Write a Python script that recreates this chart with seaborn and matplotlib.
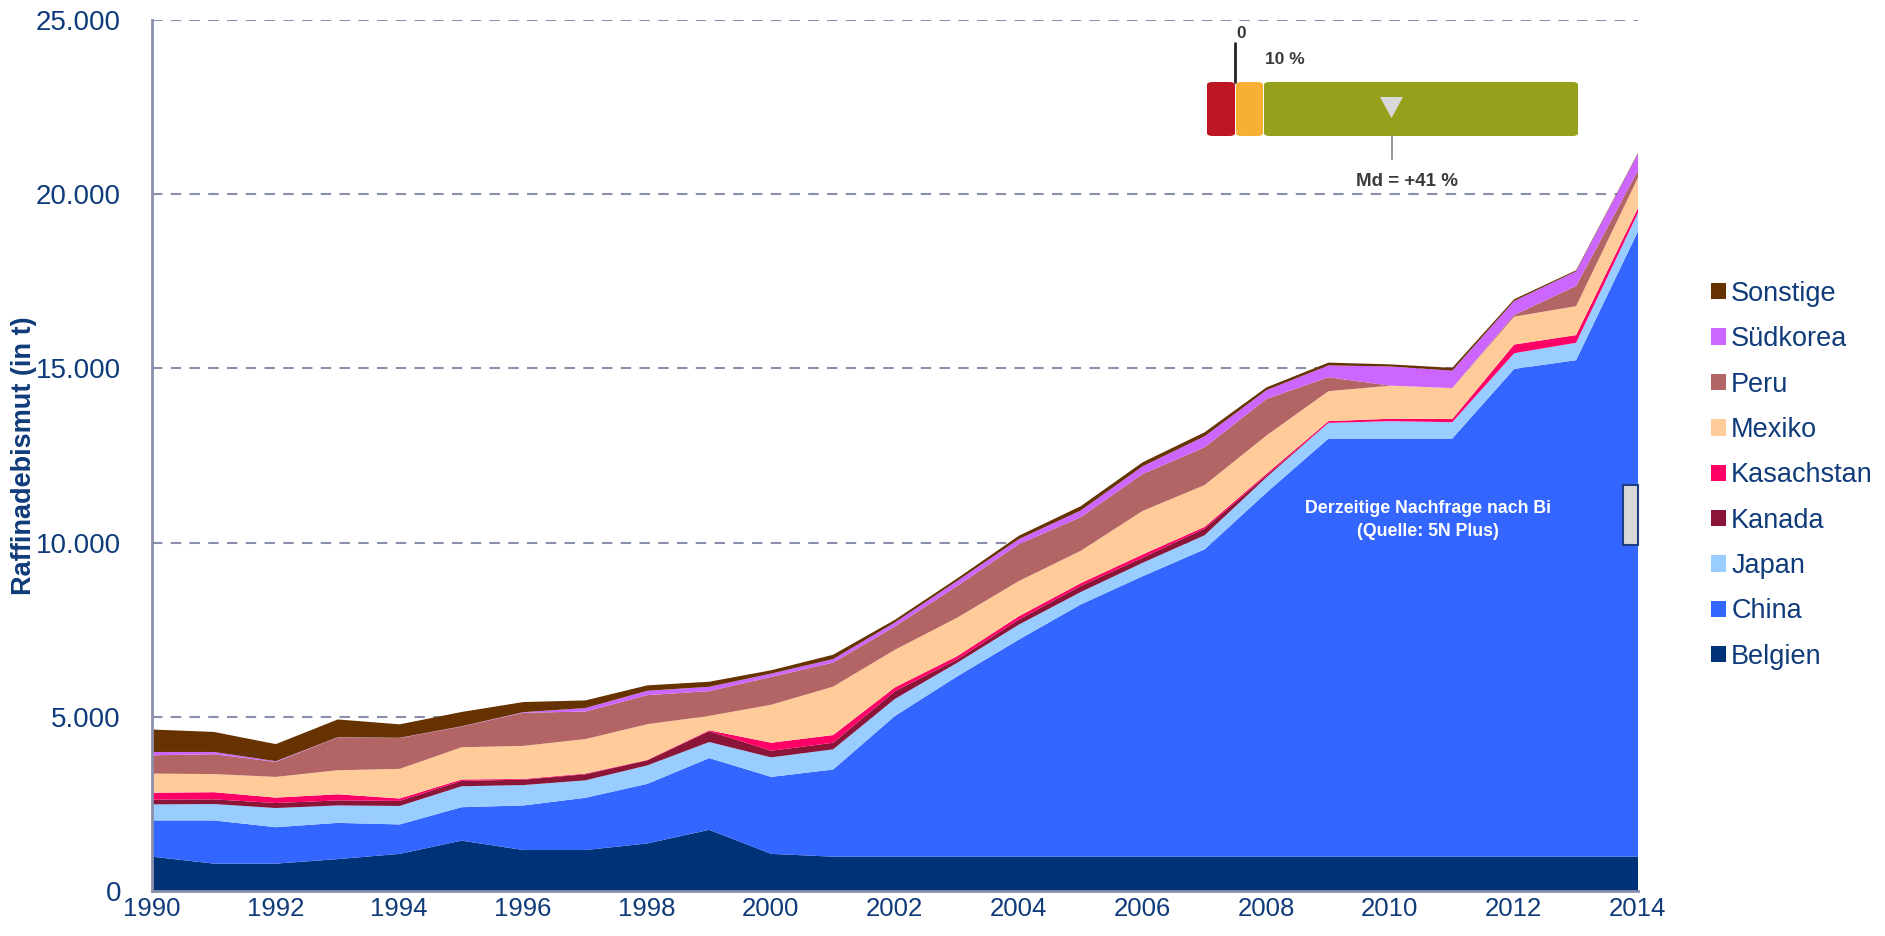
import numpy as np
import pandas as pd
import matplotlib
matplotlib.use("Agg")
import matplotlib.pyplot as plt
import seaborn as sns
from matplotlib.patches import FancyBboxPatch, Polygon, Rectangle
from matplotlib.lines import Line2D
from matplotlib.ticker import FuncFormatter

years = list(range(1990, 2015))
countries = ["Belgien", "China", "Japan", "Kanada", "Kasachstan", "Mexiko", "Peru", "Südkorea", "Sonstige"]
colors = ["#003278", "#3366FF", "#99CCFF", "#8B1538", "#FF0066", "#FFCC99", "#B36464", "#CC66FF", "#663300"]

belgien = [1000, 800, 800, 930, 1080, 1460, 1190, 1190, 1380, 1770, 1080, 1000, 1000, 1000, 1000, 1000, 1000,
           1000, 1000, 1000, 1000, 1000, 1000, 1000, 1000]
china = [1040, 1240, 1045, 1040, 845, 960, 1280, 1500, 1710, 2060, 2210, 2500, 4040, 5170, 6230, 7240, 8050,
         8820, 10450, 12000, 12000, 12000, 14000, 14250, 17950]
japan = [460, 470, 550, 500, 530, 600, 585, 500, 530, 460, 560, 580, 490, 390, 430, 355, 385,
         405, 440, 450, 500, 470, 450, 500, 530]
kanada = [135, 135, 145, 145, 145, 155, 155, 175, 145, 310, 190, 190, 220, 95, 145, 175, 145,
          190, 50, 0, 0, 0, 0, 0, 0]
kasachstan = [200, 205, 155, 175, 70, 40, 20, 20, 12, 26, 230, 220, 110, 95, 95, 80, 95,
              50, 50, 50, 70, 90, 250, 220, 140]
mexiko = [550, 520, 595, 690, 850, 925, 950, 990, 1025, 415, 1090, 1390, 1080, 1105, 1010, 930, 1250,
          1200, 1100, 860, 950, 890, 800, 830, 870]
peru = [525, 570, 430, 940, 885, 595, 950, 790, 835, 710, 800, 690, 670, 910, 1060, 965, 1060,
        1085, 1050, 400, 0, 0, 50, 580, 210]
suedkorea = [95, 65, 20, 8, 8, 8, 18, 100, 125, 125, 95, 100, 115, 145, 145, 190, 220,
             315, 250, 340, 550, 500, 400, 420, 480]
sonstige = [645, 575, 490, 510, 385, 410, 290, 220, 155, 145, 95, 125, 75, 70, 95, 125, 115,
            115, 80, 80, 60, 80, 50, 30, 20]

series = [belgien, china, japan, kanada, kasachstan, mexiko, peru, suedkorea, sonstige]
df = pd.DataFrame({c: s for c, s in zip(countries, series)}, index=years)

sns.set_theme(style="white")
plt.rcParams["font.family"] = ["Liberation Sans", "DejaVu Sans"]

W, H = 1885, 936
fig = plt.figure(figsize=(W / 100, H / 100), dpi=100)
ax = fig.add_axes([151.5 / W, (H - 891) / H, 1486 / W, 871 / H])

navy = "#0F3B7A"
gridc = "#8A90AC"

ax.stackplot(df.index, [df[c].values for c in countries], colors=colors,
             labels=countries, linewidth=0)

ax.set_xlim(1990, 2014)
ax.set_ylim(0, 25000)
ax.set_xticks(list(range(1990, 2015, 2)))
ax.set_yticks([0, 5000, 10000, 15000, 20000, 25000])
ax.yaxis.set_major_formatter(FuncFormatter(lambda v, p: f"{int(v):,}".replace(",", ".")))
ax.tick_params(axis="both", length=0, colors=navy)
ax.tick_params(axis="x", labelsize=18.5, pad=4)
ax.tick_params(axis="y", labelsize=20, pad=22)
for yv in [5000, 10000, 15000, 20000, 25000]:
    ax.axhline(yv, color=gridc, lw=1.5, ls=(0, (5, 4)), zorder=0.5)
sns.despine(ax=ax, top=True, right=True)
for s in ["left", "bottom"]:
    ax.spines[s].set_color(gridc)
    ax.spines[s].set_linewidth(2)
    ax.spines[s].set_zorder(5)

ax.set_ylabel("Raffinadebismut (in t)", fontsize=19.5, fontweight="bold", color=navy)
ax.yaxis.set_label_coords((37 - 151.5) / 1486, 0.5)

# legend
handles = [Rectangle((0, 0), 1, 1, facecolor=c, edgecolor="none") for c in colors]
fig.legend(handles[::-1], countries[::-1], loc="upper left",
           bbox_to_anchor=(1700 / W, 1 - 270 / H), frameon=False,
           fontsize=19.5, labelcolor=navy, handlelength=0.55, handleheight=0.55,
           handletextpad=0.2, labelspacing=0.715, borderaxespad=0)

# annotation text in chart
ax.text(2010.62, 10650, "Derzeitige Nachfrage nach Bi\n(Quelle: 5N Plus)", color="white",
        fontsize=12.8, fontweight="bold", ha="center", va="center", linespacing=1.45, zorder=6)
ax.add_patch(Rectangle((2013.76, 9940), 0.24, 1700, facecolor="#D9D9D9", edgecolor="#1F3F7F",
                       lw=1.5, clip_on=False, zorder=7))

# gauge in figure pixels
def fx(x):
    return x / W

def fy(y):
    return 1 - y / H

def rbox(x0, x1, y0, y1, col):
    p = FancyBboxPatch((fx(x0), fy(y1)), fx(x1) - fx(x0), fy(y0) - fy(y1),
                       boxstyle="round,pad=0,rounding_size=0.003", transform=fig.transFigure,
                       facecolor=col, edgecolor="none", zorder=8)
    fig.add_artist(p)

rbox(1207, 1235, 82, 136, "#BE1622")
rbox(1236, 1263, 82, 136, "#F7B033")
rbox(1264, 1578, 82, 136, "#95A11A")
fig.add_artist(Polygon([(fx(1380), fy(97)), (fx(1403), fy(97)), (fx(1391.5), fy(118))],
                       closed=True, transform=fig.transFigure, facecolor="#D9D9D9",
                       edgecolor="none", zorder=9))
fig.add_artist(Line2D([fx(1391.5), fx(1391.5)], [fy(136), fy(159)], transform=fig.transFigure,
                      color="#999999", lw=1.5, zorder=9))
fig.add_artist(Line2D([fx(1235), fx(1235)], [fy(43), fy(82)], transform=fig.transFigure,
                      color="#222222", lw=2, zorder=9))
gc = "#3A3A3A"
fig.text(fx(1241), fy(33), "0", fontsize=12.5, fontweight="bold", color=gc, ha="center", va="center")
fig.text(fx(1285), fy(60), "10 %", fontsize=12.5, fontweight="bold", color=gc, ha="center", va="center")
fig.text(fx(1407), fy(182), "Md = +41 %", fontsize=13.5, fontweight="bold", color=gc,
         ha="center", va="center")

fig.savefig("out.png", dpi=100)
